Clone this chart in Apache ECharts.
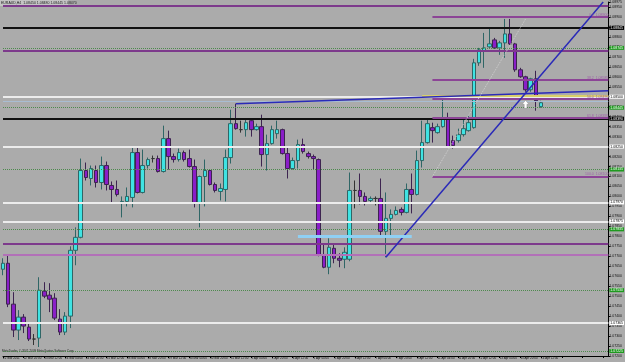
<!DOCTYPE html>
<html>
<head>
<meta charset="utf-8">
<title>EURAUD,H4</title>
<script src="https://cdn.jsdelivr.net/npm/echarts@6/dist/echarts.min.js"></script>
<style>
  html, body { margin: 0; padding: 0; background: #ababab; }
  #chart { width: 625px; height: 362px; }
</style>
</head>
<body>
<div id="chart"></div>
<script>
// H4 bars from 22 Mar 2011 04:00, the last days are the empty "chart shift" area
const tradingDays = ['22 Mar', '23 Mar', '24 Mar', '25 Mar', '28 Mar', '29 Mar', '30 Mar', '31 Mar', '1 Apr',
  '4 Apr', '5 Apr', '6 Apr', '7 Apr', '8 Apr', '11 Apr', '12 Apr', '13 Apr', '14 Apr', '15 Apr', '18 Apr']
const barHours = ['00:00', '04:00', '08:00', '12:00', '16:00', '20:00']

const opens = [
  1.07635, 1.07665, 1.07460, 1.07330, 1.07395, 1.07345, 1.07285, 1.07290, 1.07525, 1.07505,
  1.07490, 1.07385, 1.07320, 1.07400, 1.07730, 1.07795, 1.08130, 1.08090, 1.08130, 1.08070,
  1.08155, 1.08055, 1.08035, 1.07970, 1.07975, 1.07995, 1.08220, 1.08020, 1.08155, 1.08190,
  1.08190, 1.08125, 1.08290, 1.08200, 1.08185, 1.08220, 1.08190, 1.08150, 1.07970, 1.08100,
  1.08130, 1.08060, 1.08025, 1.08035, 1.08195, 1.08365, 1.08335, 1.08335, 1.08380, 1.08335,
  1.08350, 1.08210, 1.08265, 1.08315, 1.08335, 1.08215, 1.08140, 1.08180, 1.08260, 1.08215,
  1.08200, 1.08185, 1.07705, 1.07645, 1.07740, 1.07690, 1.07685, 1.07685, 1.08030, 1.08030,
  1.08000, 1.07980, 1.07990, 1.07990, 1.07825, 1.07890, 1.07910, 1.07935, 1.07920, 1.08035,
  1.08010, 1.08180, 1.08270, 1.08345, 1.08320, 1.08350, 1.08395, 1.08280, 1.08280, 1.08310,
  1.08330, 1.08345, 1.08670, 1.08730, 1.08750, 1.08785, 1.08745, 1.08770, 1.08815, 1.08765,
  1.08635, 1.08600, 1.08535, 1.08590, 1.08450
]
const closes = [
  1.07665, 1.07460, 1.07330, 1.07395, 1.07350, 1.07285, 1.07285, 1.07530, 1.07500, 1.07485,
  1.07390, 1.07320, 1.07400, 1.07730, 1.07795, 1.08130, 1.08095, 1.08140, 1.08070, 1.08155,
  1.08060, 1.08035, 1.08010, 1.07975, 1.08000, 1.08220, 1.08020, 1.08155, 1.08185, 1.08190,
  1.08125, 1.08290, 1.08200, 1.08185, 1.08220, 1.08185, 1.08150, 1.07970, 1.08100, 1.08130,
  1.08060, 1.08030, 1.08040, 1.08195, 1.08365, 1.08340, 1.08335, 1.08370, 1.08335, 1.08350,
  1.08210, 1.08265, 1.08335, 1.08335, 1.08215, 1.08140, 1.08180, 1.08260, 1.08225, 1.08200,
  1.08190, 1.07705, 1.07645, 1.07745, 1.07690, 1.07680, 1.07720, 1.08030, 1.08030, 1.08000,
  1.07975, 1.07990, 1.07990, 1.07825, 1.07890, 1.07910, 1.07930, 1.07920, 1.08035, 1.08010,
  1.08180, 1.08270, 1.08365, 1.08330, 1.08350, 1.08395, 1.08250, 1.08255, 1.08310, 1.08340,
  1.08370, 1.08670, 1.08735, 1.08745, 1.08765, 1.08745, 1.08770, 1.08815, 1.08765, 1.08635,
  1.08600, 1.08535, 1.08590, 1.08480, 1.08470
]
const lows = [
  1.07605, 1.07445, 1.07295, 1.07280, 1.07315, 1.07275, 1.07255, 1.07245, 1.07490, 1.07420,
  1.07380, 1.07305, 1.07305, 1.07340, 1.07655, 1.07790, 1.08080, 1.08055, 1.08045, 1.08035,
  1.08030, 1.07970, 1.08000, 1.07895, 1.07950, 1.07945, 1.08015, 1.08015, 1.08140, 1.08170,
  1.08120, 1.08120, 1.08135, 1.08170, 1.08175, 1.08175, 1.08145, 1.07945, 1.07845, 1.07950,
  1.08055, 1.08020, 1.07980, 1.07975, 1.08165, 1.08335, 1.08320, 1.08300, 1.08300, 1.08330,
  1.08150, 1.08130, 1.08260, 1.08290, 1.08210, 1.08090, 1.08135, 1.08140, 1.08215, 1.08190,
  1.08135, 1.07700, 1.07640, 1.07610, 1.07665, 1.07645, 1.07640, 1.07675, 1.07940, 1.07960,
  1.07955, 1.07965, 1.07955, 1.07800, 1.07695, 1.07795, 1.07905, 1.07905, 1.07915, 1.07915,
  1.08005, 1.08145, 1.08265, 1.08270, 1.08315, 1.08345, 1.08245, 1.08240, 1.08270, 1.08300,
  1.08325, 1.08340, 1.08655, 1.08645, 1.08745, 1.08740, 1.08710, 1.08695, 1.08760, 1.08625,
  1.08595, 1.08525, 1.08525, 1.08430, 1.08445
]
const highs = [
  1.07690, 1.07705, 1.07520, 1.07430, 1.07410, 1.07365, 1.07310, 1.07595, 1.07570, 1.07565,
  1.07515, 1.07435, 1.07420, 1.07750, 1.07845, 1.08190, 1.08170, 1.08155, 1.08155, 1.08200,
  1.08175, 1.08075, 1.08080, 1.08000, 1.08045, 1.08245, 1.08250, 1.08235, 1.08195, 1.08205,
  1.08205, 1.08355, 1.08330, 1.08215, 1.08240, 1.08230, 1.08235, 1.08185, 1.08105, 1.08185,
  1.08135, 1.08070, 1.08065, 1.08235, 1.08435, 1.08465, 1.08380, 1.08390, 1.08390, 1.08365,
  1.08410, 1.08310, 1.08355, 1.08380, 1.08340, 1.08250, 1.08195, 1.08285, 1.08290, 1.08225,
  1.08210, 1.08190, 1.07765, 1.07790, 1.07765, 1.07715, 1.07745, 1.08120, 1.08080, 1.08115,
  1.08020, 1.08000, 1.08000, 1.08090, 1.08020, 1.07935, 1.07950, 1.07945, 1.08065, 1.08115,
  1.08230, 1.08380, 1.08390, 1.08370, 1.08365, 1.08495, 1.08420, 1.08305, 1.08340, 1.08390,
  1.08405, 1.08690, 1.08745, 1.08820, 1.08840, 1.08795, 1.08780, 1.08890, 1.08890, 1.08770,
  1.08645, 1.08605, 1.08595, 1.08630, 1.08480
]

// horizontal levels drawn on the chart
const whiteLevels = [1.08500, 1.08250, 1.07970, 1.07875, 1.07365]
const blackLevels = [1.08845, 1.08390]
const dottedLevels = [1.08745, 1.08445, 1.08135, 1.07835, 1.07530, 1.07225]
const purpleLevels = [1.08955, 1.08730, 1.07765]
const pinkLevels = [1.07710]
const paleBlueLevels = [1.08475]
// fibonacci retracement (short lines on the right)
const fiboNames = ['0.0', '38.2', '50.0', '61.8', '100.0']
const fiboPrices = [1.08900, 1.08585, 1.08490, 1.08395, 1.08100]

const categories = []
tradingDays.forEach(function (d) {
  barHours.forEach(function (h) { categories.push(d + ' ' + h) })
})
categories.shift()
categories.length = 118
const lastBar = opens.length - 1
const lastCat = categories.length - 1

const chart = echarts.init(document.getElementById('chart'))

function boxLabel (price, bg, fg) {
  return {
    show: true, position: 'end', distance: 1, formatter: price.toFixed(5),
    fontSize: 3.5, color: fg, backgroundColor: bg, padding: [0, 1]
  }
}
// a level between two bars
function seg (from, to, p1, p2, color, width, type, label) {
  return [
    { coord: [from, p1], lineStyle: { color: color, width: width, type: type || 'solid' }, label: label || { show: false } },
    { coord: [to, p2] }
  ]
}
function fullLine (price, color, width, type, label) {
  return seg(0, lastCat, price, price, color, width, type, label)
}

let lines = []
purpleLevels.forEach(function (p) { lines.push(fullLine(p, '#7d3a8c', 2)) })
pinkLevels.forEach(function (p) { lines.push(fullLine(p, '#b270b8', 2)) })
paleBlueLevels.forEach(function (p) { lines.push(fullLine(p, '#a9bdd2', 1)) })
whiteLevels.forEach(function (p) { lines.push(fullLine(p, '#ececec', 2, 'solid', boxLabel(p, '#ffffff', '#000'))) })
blackLevels.forEach(function (p) { lines.push(fullLine(p, '#111111', 2, 'solid', boxLabel(p, '#000', '#fff'))) })
dottedLevels.forEach(function (p) { lines.push(fullLine(p, '#4d8a4d', 1, 'dotted', boxLabel(p, '#1f9a1f', '#fff'))) })

fiboPrices.forEach(function (p, i) {
  lines.push(seg(83, lastCat, p, p, '#8c4596', 2, 'solid', {
    show: true, position: 'insideEndTop', distance: 0, formatter: fiboNames[i] + '  ' + p.toFixed(5),
    fontSize: 3.5, color: '#a060aa'
  }))
})
// yellow level, trend lines, fibo base line, light blue box
lines.push(seg(81, lastCat, 1.08505, 1.08505, '#d9cf6a', 2))
lines.push(seg(45, lastCat, 1.08465, 1.08530, '#2a2ab8', 1.5))
lines.push(seg(74, 116, 1.07695, 1.08975, '#2a2ab8', 1.5))
lines.push(seg(83, 101, 1.08100, 1.08890, '#cfcfcf', 1, 'dotted'))
lines.push(seg(57, 79, 1.07800, 1.07800, '#8fd0f4', 3))

chart.setOption({
  backgroundColor: '#ababab',
  animation: false,
  grid: { left: 1, right: 13, top: 1, bottom: 6 },
  xAxis: {
    type: 'category',
    data: categories,
    boundaryGap: false,
    axisLine: { lineStyle: { color: '#000' } },
    axisTick: { interval: 3, length: 2, lineStyle: { color: '#000' } },
    axisLabel: {
      interval: 3, fontSize: 3, color: '#111', margin: 1, align: 'left',
      formatter: function (v, i) { return i === 0 ? '22 Mar 2011' : (i <= lastBar ? v : '') }
    },
    splitLine: { show: false }
  },
  yAxis: {
    type: 'value',
    position: 'right',
    min: 1.0720,
    max: 1.08975,
    interval: 0.0005,
    axisLine: { show: true, lineStyle: { color: '#000' } },
    axisTick: { show: true, length: 2, lineStyle: { color: '#000' } },
    axisLabel: { fontSize: 3.5, color: '#111', margin: 1, formatter: function (v) { return v.toFixed(5) } },
    splitLine: { show: false }
  },
  graphic: [
    { type: 'rect', left: 0, top: 0, shape: { width: 68, height: 6 }, style: { fill: '#c4c4c4' } },
    { type: 'text', left: 1, top: 1, style: { text: 'EURAUD,H4  1.08450 1.08480 1.08445 1.08470', fontSize: 3.5, fill: '#222' } },
    { type: 'text', left: 2, top: 350, style: { text: 'MetaTrader, \u00a9 2001-2009 MetaQuotes Software Corp.', fontSize: 3, fill: '#222' } }
  ],
  series: [{
    type: 'candlestick',
    data: opens.map(function (o, i) { return [o, closes[i], lows[i], highs[i]] }),
    barWidth: 4,
    itemStyle: {
      color: '#3fe3e3', color0: '#8a1ec8',
      borderColor: '#2f6666', borderColor0: '#3d2450', borderColorDoji: '#333', borderWidth: 1
    },
    markLine: { silent: true, symbol: 'none', animation: false, label: { show: false }, data: lines },
    markPoint: {
      silent: true,
      data: [{
        coord: [101, 1.08462],
        symbol: 'path://M5,0 L10,5 L7,5 L7,10 L3,10 L3,5 L0,5 Z',
        symbolSize: [7, 8],
        itemStyle: { color: '#ffffff', borderColor: '#888', borderWidth: 0.5 },
        label: { show: false }
      }]
    }
  }]
})
</script>
</body>
</html>
